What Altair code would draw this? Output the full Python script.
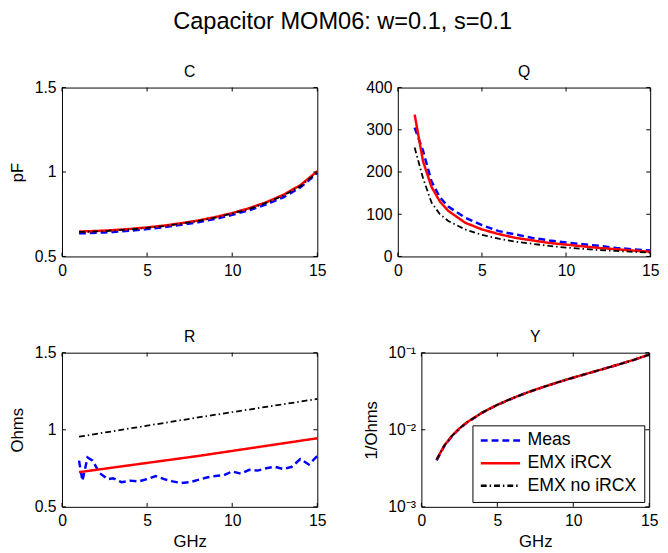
import altair as alt
import pandas as pd

# ---------------- data ----------------
SERIES = ["Meas", "EMX iRCX", "EMX no iRCX"]

freq = [1, 1.5, 2, 2.5, 3, 4, 5, 6, 7, 8, 9, 10, 11, 12, 13, 14, 15]

c_meas = [0.637, 0.638, 0.640, 0.642, 0.645, 0.652, 0.662, 0.673, 0.687, 0.703,
          0.722, 0.746, 0.774, 0.808, 0.850, 0.908, 0.995]
c_ircx = [0.648, 0.649, 0.651, 0.653, 0.656, 0.663, 0.672, 0.683, 0.697, 0.713,
          0.733, 0.757, 0.786, 0.821, 0.865, 0.922, 1.005]
c_noircx = [0.645, 0.646, 0.648, 0.650, 0.653, 0.660, 0.669, 0.680, 0.694, 0.710,
            0.730, 0.754, 0.782, 0.817, 0.860, 0.916, 0.998]

q_meas = [305, 250, 178, 140, 118, 92, 74, 60, 52, 44, 38, 33, 29, 25, 20, 17, 14]
q_ircx = [336, 225, 165, 130, 108, 80, 64, 53, 44, 38, 32, 28, 24, 20, 17, 14, 11]
q_noircx = [258, 185, 128, 100, 84, 64, 51, 42, 35, 30, 25, 21, 18, 15, 13, 11, 9]

r_freq = [1, 1.2, 1.5, 1.8, 2.2, 2.7, 3, 3.5, 4, 4.5, 5, 5.5, 6, 6.5, 7, 7.5, 8,
          8.5, 9, 9.5, 10, 10.5, 11, 11.5, 12, 12.5, 13, 13.5, 14, 14.5, 15]
r_meas = [0.80, 0.67, 0.82, 0.80, 0.72, 0.68, 0.685, 0.66, 0.67, 0.665, 0.68,
          0.70, 0.68, 0.665, 0.655, 0.66, 0.675, 0.69, 0.70, 0.705, 0.73, 0.715,
          0.74, 0.735, 0.75, 0.76, 0.745, 0.76, 0.81, 0.775, 0.83]
r_line_freq = [1, 8, 15]
r_ircx = [0.725, 0.830, 0.945]
r_noircx = [0.955, 1.080, 1.200]

y_meas = [0.0040, 0.0061, 0.0082, 0.0103, 0.0124, 0.0166, 0.0210, 0.0256, 0.0305,
          0.0357, 0.0413, 0.0474, 0.0541, 0.0616, 0.0703, 0.0808, 0.0943]
y_ircx = [0.0041, 0.0062, 0.0083, 0.0104, 0.0125, 0.0167, 0.0211, 0.0257, 0.0306,
          0.0358, 0.0414, 0.0475, 0.0542, 0.0617, 0.0705, 0.0810, 0.0947]
y_noircx = [0.0041, 0.0062, 0.0083, 0.0104, 0.0125, 0.0167, 0.0211, 0.0257, 0.0306,
            0.0358, 0.0414, 0.0475, 0.0542, 0.0617, 0.0704, 0.0809, 0.0945]

x_ticks = [0, 5, 10, 15]
c_ticks = [0.5, 1, 1.5]
q_ticks = [0, 100, 200, 300, 400]
r_ticks = [0.5, 1, 1.5]
y_ticks = [0.001, 0.01, 0.1]

# ---------------- styling ----------------
FONT = "Liberation Sans"
COLORS = ["#0000ff", "#ff0000", "#000000"]
DASHES = [[7, 4], [1, 0], [6, 3, 1.5, 3]]
WIDTHS = [2.5, 2.5, 1.8]
LBL = 16
TTL = 17
TICK = 4


def frame(xs, vals, name):
    return pd.DataFrame({"f": xs, "v": vals, "series": name})


def panel(name, frames, ydomain, yticks, w, h, ylabel="", xlabel="",
          log=False, legend=False, label_expr=None):
    xsc = alt.Scale(domain=[0, 15], nice=False, zero=False)
    if log:
        ysc = alt.Scale(type="log", domain=ydomain, nice=False)
    else:
        ysc = alt.Scale(domain=ydomain, nice=False, zero=False)

    xaxis = alt.Axis(values=x_ticks, ticks=False, domain=False, grid=False,
                     labelFontSize=LBL, labelPadding=6, labelFlush=False,
                     titleFontSize=TTL, titleFontWeight="normal", titlePadding=5)
    ykw = dict(values=yticks, ticks=False, domain=False, grid=False,
               labelFontSize=LBL, labelPadding=6, labelFlush=False,
               titleFontSize=TTL, titleFontWeight="normal", titlePadding=8)
    if label_expr:
        ykw["labelExpr"] = label_expr
    else:
        ykw["format"] = "~r"
    yaxis = alt.Axis(**ykw)

    leg = alt.Legend(title=None, orient="bottom-right", offset=5,
                     fillColor="white", strokeColor="black", padding=7,
                     labelFontSize=18, labelColor="black",
                     symbolType="stroke", symbolSize=1600, symbolStrokeWidth=2.5,
                     clipHeight=17, rowPadding=4, labelOffset=6)

    layers = []
    for i, df in enumerate(frames):
        enc = dict(
            x=alt.X("f:Q", scale=xsc, axis=xaxis, title=xlabel),
            y=alt.Y("v:Q", scale=ysc, axis=yaxis, title=ylabel),
            color=alt.Color("series:N", scale=alt.Scale(domain=SERIES, range=COLORS),
                            legend=leg if (legend and i == 0) else None),
            strokeDash=alt.StrokeDash("series:N",
                                      scale=alt.Scale(domain=SERIES, range=DASHES),
                                      legend=leg if (legend and i == 0) else None),
        )
        layers.append(alt.Chart(df).mark_line(strokeWidth=WIDTHS[i]).encode(**enc))

    xt = pd.DataFrame({"t": x_ticks})
    yt = pd.DataFrame({"t": yticks})
    rule = dict(color="black", strokeWidth=1)
    layers.append(alt.Chart(xt).mark_rule(**rule).encode(
        x=alt.X("t:Q", scale=xsc, axis=xaxis, title=xlabel),
        y=alt.value(h), y2=alt.value(h - TICK)))
    layers.append(alt.Chart(xt).mark_rule(**rule).encode(
        x=alt.X("t:Q", scale=xsc, axis=xaxis, title=xlabel),
        y=alt.value(0), y2=alt.value(TICK)))
    layers.append(alt.Chart(yt).mark_rule(**rule).encode(
        y=alt.Y("t:Q", scale=ysc, axis=yaxis, title=ylabel),
        x=alt.value(0), x2=alt.value(TICK)))
    layers.append(alt.Chart(yt).mark_rule(**rule).encode(
        y=alt.Y("t:Q", scale=ysc, axis=yaxis, title=ylabel),
        x=alt.value(w), x2=alt.value(w - TICK)))

    return alt.layer(*layers).properties(
        width=w, height=h,
        title=alt.Title(name, fontSize=16, fontWeight="normal", offset=0))


pC = panel("C", [frame(freq, c_meas, SERIES[0]), frame(freq, c_ircx, SERIES[1]),
                 frame(freq, c_noircx, SERIES[2])],
           [0.5, 1.5], c_ticks, 260, 172, ylabel="pF")
pQ = panel("Q", [frame(freq, q_meas, SERIES[0]), frame(freq, q_ircx, SERIES[1]),
                 frame(freq, q_noircx, SERIES[2])],
           [0, 400], q_ticks, 257, 172)
pR = panel("R", [frame(r_freq, r_meas, SERIES[0]), frame(r_line_freq, r_ircx, SERIES[1]),
                 frame(r_line_freq, r_noircx, SERIES[2])],
           [0.5, 1.5], r_ticks, 260, 157, ylabel="Ohms", xlabel="GHz")
pY = panel("Y", [frame(freq, y_meas, SERIES[0]), frame(freq, y_ircx, SERIES[1]),
                 frame(freq, y_noircx, SERIES[2])],
           [0.001, 0.1], y_ticks, 232, 157, ylabel="1/Ohms", xlabel="GHz",
           log=True, legend=True,
           label_expr="datum.value >= 0.05 ? '10⁻¹' : (datum.value >= 0.005 ? '10⁻²' : '10⁻³')")

ind = dict(color="independent", strokeDash="independent")
top = alt.hconcat(pC, pQ, spacing=38).resolve_scale(**ind)
bottom = alt.hconcat(pR, pY, spacing=35).resolve_scale(**ind)

chart = alt.vconcat(top, bottom, spacing=50).resolve_scale(**ind).properties(
    title=alt.Title("Capacitor MOM06: w=0.1, s=0.1", fontSize=24,
                    fontWeight="normal", anchor="middle", offset=30, dx=9),
    padding={"top": -3, "left": 0, "right": 0, "bottom": 0},
).configure(background="white", font=FONT).configure_view(
    stroke="black", strokeWidth=1
).configure_axis(labelColor="black", titleColor="black", labelFont=FONT,
                 titleFont=FONT).configure_title(color="black", font=FONT)

chart.save("out.html", embed_options={"renderer": "svg", "actions": False})
